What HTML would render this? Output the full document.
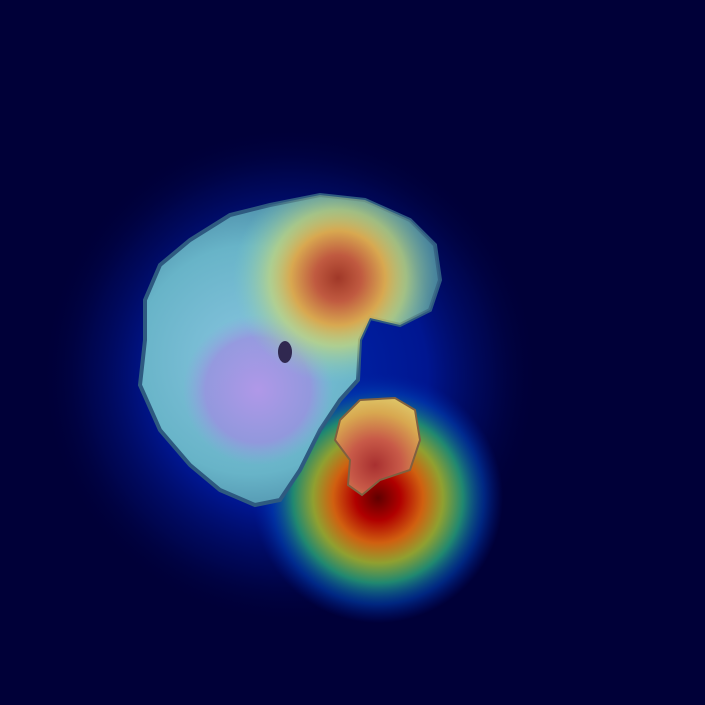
<!DOCTYPE html>
<html><head><meta charset="utf-8"><style>
html,body{margin:0;padding:0;background:#000038;}
svg{display:block}
</style></head><body>
<svg width="705" height="705" viewBox="0 0 705 705" xmlns="http://www.w3.org/2000/svg">
<defs>
<radialGradient id="glow" cx="290" cy="375" r="250" gradientUnits="userSpaceOnUse">
<stop offset="0" stop-color="#0028b0"/>
<stop offset="0.55" stop-color="#001690"/>
<stop offset="0.8" stop-color="#000a60" stop-opacity="0.6"/>
<stop offset="1" stop-color="#000038" stop-opacity="0"/>
</radialGradient>
<radialGradient id="hot" cx="378" cy="498" r="125" gradientUnits="userSpaceOnUse">
<stop offset="0" stop-color="#600000"/>
<stop offset="0.18" stop-color="#b00000"/>
<stop offset="0.36" stop-color="#d06010"/>
<stop offset="0.52" stop-color="#90a030"/>
<stop offset="0.68" stop-color="#208870"/>
<stop offset="0.85" stop-color="#0040b0" stop-opacity="0.6"/>
<stop offset="1" stop-color="#0020a0" stop-opacity="0"/>
</radialGradient>
<radialGradient id="tissueBase" cx="250" cy="360" r="190" gradientUnits="userSpaceOnUse">
<stop offset="0" stop-color="#88c4e0"/>
<stop offset="0.6" stop-color="#68b4c8"/>
<stop offset="1" stop-color="#3e7898"/>
</radialGradient>
<radialGradient id="purple" cx="258" cy="390" r="75" gradientUnits="userSpaceOnUse">
<stop offset="0" stop-color="#b098e8"/>
<stop offset="0.7" stop-color="#9a90e0" stop-opacity="0.8"/>
<stop offset="1" stop-color="#90a0e0" stop-opacity="0"/>
</radialGradient>
<radialGradient id="topHot" cx="338" cy="278" r="105" gradientUnits="userSpaceOnUse">
<stop offset="0" stop-color="#a03828"/>
<stop offset="0.22" stop-color="#c05a40"/>
<stop offset="0.45" stop-color="#d8a850"/>
<stop offset="0.65" stop-color="#c8d878" stop-opacity="0.7"/>
<stop offset="1" stop-color="#80d0c0" stop-opacity="0"/>
</radialGradient>
<radialGradient id="smallHot" cx="375" cy="465" r="75" gradientUnits="userSpaceOnUse">
<stop offset="0" stop-color="#a83030"/>
<stop offset="0.35" stop-color="#c85a48"/>
<stop offset="0.7" stop-color="#d8a850"/>
<stop offset="1" stop-color="#e0d070"/>
</radialGradient>
</defs>
<rect width="705" height="705" fill="#000038"/>
<rect width="705" height="705" fill="url(#glow)"/>
<rect width="705" height="705" fill="url(#hot)"/>
<g>
<path d="M145,300 L160,265 L190,240 L230,215 L270,205 L320,195 L365,200 L410,220 L435,245 L440,280 L430,310 L400,325 L370,318 L360,340 L358,380 L340,400 L320,430 L300,470 L280,500 L255,505 L220,490 L190,465 L160,430 L140,385 L145,340 Z" fill="url(#tissueBase)" stroke="#2e5a80" stroke-width="4"/>
<ellipse cx="258" cy="390" rx="75" ry="80" fill="url(#purple)"/>
<path d="M145,300 L160,265 L190,240 L230,215 L270,205 L320,195 L365,200 L410,220 L435,245 L440,280 L430,310 L400,325 L370,318 L360,340 L358,380 L340,400 L320,430 L300,470 L280,500 L255,505 L220,490 L190,465 L160,430 L140,385 L145,340 Z" fill="url(#topHot)"/>
<ellipse cx="285" cy="352" rx="7" ry="11" fill="#302850"/>
</g>
<path d="M340,420 L360,400 L395,398 L415,410 L420,440 L410,470 L380,480 L362,495 L348,485 L350,460 L335,440 Z" fill="url(#smallHot)" stroke="#806040" stroke-width="2"/>
</svg>
</body></html>
